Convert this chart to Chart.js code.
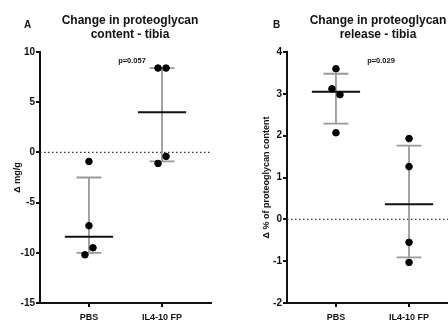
<!DOCTYPE html>
<html lang="en">
<head>
  <meta charset="UTF-8" />
  <title>Change in proteoglycan - tibia</title>
  <script src="https://cdn.jsdelivr.net/npm/chart.js"></script>
  <style>
    body {
      margin: 0;
      background: #fff;
      font-family: "Liberation Sans", Arial, sans-serif;
      overflow: hidden;
    }
    .page {
      position: relative;
      width: 448px;
      height: 325px;
      overflow: hidden;
    }
    canvas {
      position: absolute;
      top: 0;
    }
    .title {
      position: absolute;
      width: 200px;
      text-align: center;
      font-weight: bold;
      font-size: 12px;
      line-height: 14px;
      color: #111;
      white-space: nowrap;
    }
    .letter {
      position: absolute;
      font-weight: bold;
      font-size: 10px;
      color: #111;
    }
    .pval {
      position: absolute;
      font-weight: bold;
      font-size: 7.5px;
      color: #111;
      transform: translateX(-50%);
    }
  </style>
</head>
<body>

<div class="page">
  <canvas id="chartA" width="224" height="325" style="left:0"></canvas>
  <canvas id="chartB" width="240" height="325" style="left:224px"></canvas>

  <div class="letter" style="left:24px; top:19px">A</div>
  <div class="title" style="left:30px; top:13px">Change in proteoglycan<br>content - tibia</div>
  <div class="pval" style="left:132px; top:56px">p=0.057</div>

  <div class="letter" style="left:273px; top:19px">B</div>
  <div class="title" style="left:278px; top:13px">Change in proteoglycan<br>release - tibia</div>
  <div class="pval" style="left:381px; top:56px">p=0.029</div>
</div>

<script>
  const categories = ['PBS', 'IL4-10 FP'];

  // panel A: change in content (mg/g)
  const contentPBS = [-0.9, -7.3, -9.5, -10.2];
  const contentIL = [8.4, 8.4, -0.4, -1.1];
  const contentMedian = [-8.4, 4.0];
  const contentLow = [-10.0, -0.9];
  const contentHigh = [-2.5, 8.4];
  const contentTicks = [10, 5, 0, -5, -10, -15];

  // panel B: change in release (% of content)
  const releasePBS = [3.6, 3.12, 2.98, 2.07];
  const releaseIL = [1.93, 1.26, -0.55, -1.03];
  const releaseMedian = [3.05, 0.36];
  const releaseLow = [2.29, -0.91];
  const releaseHigh = [3.48, 1.76];
  const releaseTicks = [4, 3, 2, 1, 0, -1, -2];

  // horizontal scatter of the dots around each group
  const jitterA = [[0, 0, 0.055, -0.055], [-0.055, 0.055, 0.055, -0.055]];
  const jitterB = [[0, -0.055, 0.055, 0], [0, 0, 0, 0]];

  const X_MIN = 0.33, X_MAX = 2.67;
  const MEDIAN_HALF = 0.33, CAP_HALF = 0.17;
  const FONT = "'Liberation Sans', Arial, sans-serif";

  function dots(groups, jitter) {
    const pts = [];
    groups.forEach((vals, g) => {
      vals.forEach((v, i) => pts.push({ x: g + 1 + jitter[g][i], y: v }));
    });
    return pts;
  }

  function medianSegs(med) {
    const pts = [];
    med.forEach((m, g) => {
      pts.push({ x: g + 1 - MEDIAN_HALF, y: m }, { x: g + 1 + MEDIAN_HALF, y: m }, { x: g + 1, y: null });
    });
    return pts;
  }

  function errorSegs(low, high) {
    const pts = [];
    low.forEach((lo, g) => {
      const c = g + 1;
      const hi = high[g];
      pts.push({ x: c, y: lo }, { x: c, y: hi }, { x: c, y: null });
      pts.push({ x: c - CAP_HALF, y: lo }, { x: c + CAP_HALF, y: lo }, { x: c, y: null });
      pts.push({ x: c - CAP_HALF, y: hi }, { x: c + CAP_HALF, y: hi }, { x: c, y: null });
    });
    return pts;
  }

  function makeChart(id, cfg) {
    const ctx = document.getElementById(id).getContext('2d');
    return new Chart(ctx, {
      type: 'scatter',
      data: {
        datasets: [
          {
            data: dots(cfg.groups, cfg.jitter),
            backgroundColor: '#000',
            borderColor: '#000',
            pointRadius: 3.3,
            pointHoverRadius: 3.3
          },
          {
            data: medianSegs(cfg.median),
            showLine: true,
            spanGaps: false,
            borderColor: '#111',
            borderWidth: 1.8,
            pointRadius: 0
          },
          {
            data: errorSegs(cfg.low, cfg.high),
            showLine: true,
            spanGaps: false,
            borderColor: '#999',
            borderWidth: 1.8,
            pointRadius: 0
          },
          {
            data: [{ x: X_MIN, y: 0 }, { x: X_MAX, y: 0 }],
            showLine: true,
            borderColor: '#333',
            borderWidth: 1.3,
            borderDash: [1.5, 2.5],
            pointRadius: 0
          }
        ]
      },
      options: {
        responsive: false,
        animation: false,
        layout: { padding: { top: 52, right: cfg.padRight, left: cfg.padLeft, bottom: 0 } },
        plugins: {
          legend: { display: false },
          tooltip: { enabled: false }
        },
        scales: {
          x: {
            type: 'linear',
            min: X_MIN,
            max: X_MAX,
            afterBuildTicks: s => { s.ticks = categories.map((c, i) => ({ value: i + 1 })); },
            afterFit: s => { s.height = 22; },
            ticks: {
              callback: v => categories[v - 1],
              color: '#111',
              padding: 5,
              font: { family: FONT, size: 9, weight: 'bold' }
            },
            grid: { drawOnChartArea: false, tickLength: 4, color: '#111', lineWidth: 2 },
            border: { color: '#111', width: 2 }
          },
          y: {
            min: cfg.ticks[cfg.ticks.length - 1],
            max: cfg.ticks[0],
            afterBuildTicks: s => { s.ticks = cfg.ticks.map(v => ({ value: v })); },
            afterFit: s => { s.width = 40; },
            ticks: {
              color: '#111',
              padding: 1,
              font: { family: FONT, size: 10, weight: 'bold' }
            },
            grid: { drawOnChartArea: false, tickLength: 4, color: '#111', lineWidth: 2 },
            border: { color: '#111', width: 2 },
            title: {
              display: true,
              text: cfg.yTitle,
              color: '#111',
              padding: { top: cfg.titlePad, bottom: 0 },
              font: { family: FONT, size: 9, weight: 'bold' }
            }
          }
        }
      }
    });
  }

  makeChart('chartA', {
    groups: [contentPBS, contentIL],
    jitter: jitterA,
    median: contentMedian,
    low: contentLow,
    high: contentHigh,
    ticks: contentTicks,
    yTitle: 'Δ mg/g',
    titlePad: 12,
    padLeft: 0,
    padRight: 13
  });

  makeChart('chartB', {
    groups: [releasePBS, releaseIL],
    jitter: jitterB,
    median: releaseMedian,
    low: releaseLow,
    high: releaseHigh,
    ticks: releaseTicks,
    yTitle: 'Δ % of proteoglycan content',
    titlePad: 14,
    padLeft: 23,
    padRight: 6
  });
</script>

</body>
</html>
